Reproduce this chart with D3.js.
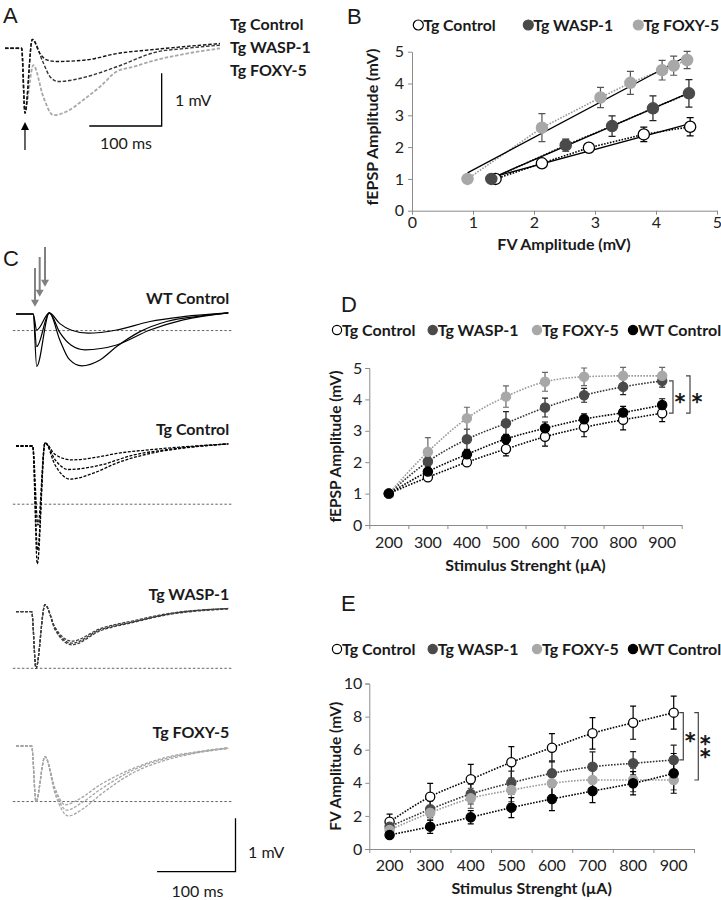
<!DOCTYPE html>
<html>
<head>
<meta charset="utf-8">
<script src="https://cdn.jsdelivr.net/npm/d3@7"></script>
<style>
  body { margin: 0; background: #fff; }
  text { font-family: Lato, "Open Sans", sans-serif; fill: #1a1a1a; }
  .letter { font-family: "Liberation Sans", Arial, sans-serif; font-size: 22px; }
  .axis path, .axis line { stroke: #8c8c8c; }
  .axis text { font-family: Lato, sans-serif; font-size: 16px; fill: #222; }
  .star { font-family: "DejaVu Sans", sans-serif; font-size: 21px; fill: #111; stroke: #111; stroke-width: 0.6px; text-rendering: geometricPrecision; }
</style>
</head>
<body>
<svg id="fig" width="721" height="900"></svg>
<script>
// ---------- data ----------
// panel A: averaged traces, [ms, mV]
const aTgControl = [[0,0],[23,0],[27.6,-1.23],[37.7,0.17],[48.3,-0.1],[57.6,-0.22],[71.4,-0.25],[112.8,-0.22],[154.3,-0.1],[200.3,-0.03],[246.3,0.03],[297,0.09]];
const aWasp = [[0,0],[23,0],[27.6,-1.23],[37.7,0.17],[53,-0.28],[62.2,-0.54],[73.6,-0.63],[112.8,-0.54],[154.3,-0.35],[209.5,-0.07],[251,0],[297,0.06]];
const aFoxy = [[0,0],[23,0],[27.6,-1.17],[39.1,-0.32],[52.9,-0.92],[66.7,-1.27],[85.2,-1.2],[108.1,-0.98],[131.2,-0.73],[154.3,-0.44],[177.2,-0.35],[209.5,-0.22],[251,-0.1],[297,0]];
const aLabels = ["Tg Control", "Tg WASP-1", "Tg FOXY-5"];

// panel B: fEPSP vs FV amplitude (mV)
const bTgControlFV = [1.37, 2.13, 2.90, 3.80, 4.56];
const bTgControlEPSP = [1.0, 1.49, 1.98, 2.40, 2.64];
const bTgControlErr = [0, 0.05, 0.08, 0.23, 0.29];
const bWaspFV = [1.30, 2.52, 3.28, 3.95, 4.54];
const bWaspEPSP = [1.0, 2.06, 2.66, 3.22, 3.69];
const bWaspErr = [0, 0.19, 0.32, 0.39, 0.43];
const bFoxyFV = [0.91, 2.13, 3.09, 3.58, 4.10, 4.29, 4.51];
const bFoxyEPSP = [1.0, 2.61, 3.56, 4.02, 4.42, 4.56, 4.74];
const bFoxyErr = [0, 0.44, 0.32, 0.36, 0.31, 0.30, 0.27];

// panel C: example traces per group, [ms, mV]
const cWT = [
  [[0,0],[22,0],[26.4,-0.30],[42.5,0.02],[56,-0.18],[70,-0.3],[92.2,-0.36],[128.4,-0.30],[170.9,-0.14],[213.4,-0.05],[270.8,0.02]],
  [[0,0],[22,0],[26.4,-0.61],[42.5,0.02],[56,-0.35],[70,-0.58],[88,-0.67],[128.4,-0.58],[170.9,-0.30],[213.4,-0.11],[270.8,0.02]],
  [[0,0],[22,0],[26.4,-0.98],[42.5,0.02],[56,-0.49],[68,-0.85],[83.8,-0.97],[107.1,-0.86],[128.4,-0.61],[158.2,-0.33],[192.2,-0.14],[234.7,-0.04],[270.8,0.02]]
];
const cTg = [
  [[0,0],[21.3,0],[27.2,-2.21],[37,0.06],[50,-0.16],[71,-0.26],[107,-0.20],[128.4,-0.14],[171,-0.07],[270.8,0.04]],
  [[0,0],[21.3,0],[27.5,-1.95],[37,0.06],[50,-0.26],[66.7,-0.44],[107,-0.36],[149.6,-0.17],[192.2,-0.07],[270.8,0.04]],
  [[0,0],[21.3,0],[28,-1.48],[37,0.06],[50,-0.36],[68.9,-0.62],[98.6,-0.51],[128.4,-0.32],[171,-0.14],[213.4,-0.04],[270.8,0.04]]
];
const cWasp = [
  [[0,0],[20,0],[25.5,-1.06],[37,0.13],[50,-0.3],[71.4,-0.55],[107,-0.32],[149.6,-0.17],[192.2,-0.04],[270.8,0.06]],
  [[0,0],[20,0],[25.5,-1.06],[37,0.13],[50,-0.32],[71.4,-0.59],[107,-0.34],[149.6,-0.19],[192.2,-0.05],[270.8,0.06]],
  [[0,0],[20,0],[25.5,-1.06],[37,0.13],[50,-0.34],[71.4,-0.62],[107,-0.36],[149.6,-0.2],[192.2,-0.06],[270.8,0.05]]
];
const cFoxy = [
  [[0,0],[20,0],[25.5,-1.04],[37,-0.20],[50,-0.8],[62.5,-1.10],[80,-1.0],[107,-0.73],[149.6,-0.42],[192.2,-0.21],[234.7,-0.10],[270.8,-0.03]],
  [[0,0],[20,0],[25.5,-1.04],[37,-0.20],[50,-0.85],[64.7,-1.20],[82,-1.08],[107,-0.82],[149.6,-0.45],[192.2,-0.23],[234.7,-0.11],[270.8,-0.04]],
  [[0,0],[20,0],[25.5,-1.04],[37,-0.20],[50,-0.9],[66.7,-1.31],[85,-1.18],[107,-0.92],[149.6,-0.50],[192.2,-0.26],[234.7,-0.12],[270.8,-0.05]]
];
const cLabels = ["WT Control", "Tg Control", "Tg WASP-1", "Tg FOXY-5"];
const cRefLevels = [-0.31, -1.09, -1.06, -1.04];
const cArrowTimes = [24.2, 30.2, 37];

// panels D, E: vs stimulus strength
const stimulus = ["200", "300", "400", "500", "600", "700", "800", "900"];
const dTgControl = [1.0, 1.52, 2.0, 2.42, 2.81, 3.11, 3.35, 3.56];
const dTgControlErr = [0, 0.08, 0.1, 0.22, 0.3, 0.3, 0.32, 0.27];
const dWasp = [1.0, 2.02, 2.73, 3.24, 3.74, 4.13, 4.40, 4.59];
const dWaspErr = [0, 0.15, 0.32, 0.37, 0.3, 0.22, 0.25, 0.2];
const dFoxy = [1.0, 2.33, 3.40, 4.09, 4.56, 4.72, 4.75, 4.75];
const dFoxyErr = [0, 0.45, 0.35, 0.34, 0.3, 0.28, 0.27, 0.27];
const dWT = [1.0, 1.70, 2.25, 2.74, 3.08, 3.37, 3.58, 3.82];
const dWTErr = [0, 0.1, 0.12, 0.15, 0.2, 0.17, 0.2, 0.2];

const eTgControl = [1.65, 3.16, 4.21, 5.24, 6.12, 6.99, 7.63, 8.24];
const eTgControlErr = [0.46, 0.8, 0.9, 0.95, 0.85, 0.95, 1.0, 1.0];
const eWasp = [1.35, 2.40, 3.32, 4.0, 4.57, 4.97, 5.18, 5.38];
const eWaspErr = [0.3, 0.5, 0.6, 0.7, 0.75, 0.9, 0.7, 0.9];
const eFoxy = [1.15, 2.19, 3.06, 3.56, 3.97, 4.17, 4.17, 4.17];
const eFoxyErr = [0.3, 0.45, 0.6, 0.7, 0.7, 0.7, 0.7, 0.6];
const eWT = [0.85, 1.35, 1.92, 2.50, 3.02, 3.50, 3.97, 4.57];
const eWTErr = [0.15, 0.4, 0.4, 0.6, 0.7, 0.7, 0.7, 1.2];

const groupNames = ["Tg Control", "Tg WASP-1", "Tg FOXY-5", "WT Control"];

// ---------- styles ----------
const colTg = "#000", colWasp = "#4a4a4a", colFoxy = "#a8a8a8", colWT = "#000";
const svg = d3.select("#fig");

function letter(t, x, y) {
  svg.append("text").attr("class", "letter").attr("x", x).attr("y", y).text(t);
}
function boldText(t, x, y, size, anchor) {
  return svg.append("text").attr("x", x).attr("y", y)
    .attr("font-size", size).attr("font-weight", "bold")
    .attr("text-anchor", anchor || "start").text(t);
}

// ========== Panel A ==========
letter("A", 3, 23);
{
  const x = d3.scaleLinear().domain([0, 300]).range([5, 222.2]);
  const y = d3.scaleLinear().domain([0, 1]).range([48.3, -4.4]);
  const line = d3.line().x(d => x(d[0])).y(d => y(d[1])).curve(d3.curveMonotoneX);
  const traces = [[aFoxy, colFoxy, 1.8], [aWasp, "#333", 1.4], [aTgControl, "#111", 1.4]];
  traces.forEach(([t, c, w]) => {
    svg.append("path").datum(t).attr("d", line)
      .attr("fill", "none").attr("stroke", c).attr("stroke-width", w)
      .attr("stroke-dasharray", "3.5,1.8");
  });
  // stimulus arrow
  const ax = x(27.6);
  svg.append("line").attr("x1", ax).attr("x2", ax).attr("y1", 150).attr("y2", 128)
    .attr("stroke", "#000").attr("stroke-width", 1.2);
  svg.append("path").attr("d", `M${ax - 4},${130} L${ax},${122} L${ax + 4},${130} Z`).attr("fill", "#000");
  // scale bar: 100 ms, 1 mV
  svg.append("path")
    .attr("d", `M${x(116.4)},${y(-1.474)} H${x(216.4)} V${y(-0.474)}`)
    .attr("fill", "none").attr("stroke", "#000").attr("stroke-width", 1.3);
  svg.append("text").attr("x", 175).attr("y", 106).attr("font-size", 16).text("1 mV");
  svg.append("text").attr("x", 126).attr("y", 149).attr("font-size", 16)
    .attr("text-anchor", "middle").text("100 ms");
  aLabels.forEach((l, i) => boldText(l, 230, 30 + i * 23, 16));
}

// ========== Panel B ==========
letter("B", 347, 24);
{
  const x = d3.scaleLinear().domain([0, 5]).range([412, 717]);
  const y = d3.scaleLinear().domain([0, 5]).range([210.7, 51.7]);
  svg.append("g").attr("class", "axis").attr("transform", "translate(0,210.7)")
    .call(d3.axisBottom(x).ticks(5).tickSize(4).tickPadding(2).tickSizeOuter(0));
  svg.append("g").attr("class", "axis").attr("transform", "translate(412,0)")
    .call(d3.axisLeft(y).ticks(5).tickSize(4).tickPadding(4).tickSizeOuter(0));

  const series = [
    { fv: bTgControlFV, v: bTgControlEPSP, e: bTgControlErr, fill: "#fff", stroke: "#000", line: "#000", err: "#000" },
    { fv: bWaspFV, v: bWaspEPSP, e: bWaspErr, fill: colWasp, stroke: colWasp, line: "#222", err: "#222" },
    { fv: bFoxyFV, v: bFoxyEPSP, e: bFoxyErr, fill: colFoxy, stroke: colFoxy, line: "#999", err: "#555" }
  ];
  series.forEach(s => {
    const pts = s.fv.map((f, i) => [f, s.v[i], s.e[i]]);
    // dotted connection
    svg.append("path").datum(pts)
      .attr("d", d3.line().x(d => x(d[0])).y(d => y(d[1])))
      .attr("fill", "none").attr("stroke", s.line).attr("stroke-width", 1.6)
      .attr("stroke-dasharray", "1.6,1.4");
    // linear fit (least squares)
    const mx = d3.mean(s.fv), my = d3.mean(s.v);
    const slope = d3.sum(s.fv, (f, i) => (f - mx) * (s.v[i] - my)) / d3.sum(s.fv, f => (f - mx) * (f - mx));
    const x0 = d3.min(s.fv), x1 = d3.max(s.fv);
    svg.append("line")
      .attr("x1", x(x0)).attr("y1", y(my + slope * (x0 - mx)))
      .attr("x2", x(x1)).attr("y2", y(my + slope * (x1 - mx)))
      .attr("stroke", "#000").attr("stroke-width", 1.3);
    s.pts = pts;
  });
  series.forEach(s => {
    s.pts.filter(d => d[2] > 0).forEach(d => {
      const cx = x(d[0]), y1 = y(d[1] + d[2]), y2 = y(d[1] - d[2]);
      svg.append("path").attr("d", `M${cx},${y1} V${y2} M${cx - 3.5},${y1} H${cx + 3.5} M${cx - 3.5},${y2} H${cx + 3.5}`)
        .attr("stroke", s.err).attr("stroke-width", 1.2).attr("fill", "none");
    });
    svg.append("g").selectAll("circle").data(s.pts).join("circle")
      .attr("cx", d => x(d[0])).attr("cy", d => y(d[1])).attr("r", 5.6)
      .attr("fill", s.fill).attr("stroke", s.stroke).attr("stroke-width", 1.3);
  });

  // legend
  const leg = [[418.3, "#fff", "#000"], [528.3, colWasp, colWasp], [638.3, colFoxy, colFoxy]];
  leg.forEach(([lx, f, st], i) => {
    svg.append("circle").attr("cx", lx).attr("cy", 25).attr("r", 5).attr("fill", f).attr("stroke", st).attr("stroke-width", 1.2);
    boldText(groupNames[i], lx + 5, 31, 15.8);
  });
  svg.append("text").attr("transform", "translate(372.5,127) rotate(-90)").attr("dy", "0.35em")
    .attr("text-anchor", "middle").attr("font-size", 16).attr("font-weight", "bold").text("fEPSP Amplitude (mV)");
  boldText("FV Amplitude (mV)", 564, 250, 16, "middle");
}

// ========== Panel C ==========
letter("C", 3, 266);
{
  const x = d3.scaleLinear().domain([0, 280]).range([16, 235.5]);
  const mvPx = 53.4;
  const rows = [
    { traces: cWT, base: 314, color: "#000", dash: null, w: 1.2, labelY: 304 },
    { traces: cTg, base: 446, color: "#000", dash: "3,1.5", w: 1.3, labelY: 435 },
    { traces: cWasp, base: 611.7, color: "#3c3c3c", dash: "3,1.5", w: 1.3, labelY: 600 },
    { traces: cFoxy, base: 746, color: "#a5a5a5", dash: "3,1.5", w: 1.3, labelY: 738 }
  ];
  rows.forEach((r, i) => {
    const y = d3.scaleLinear().domain([0, 1]).range([r.base, r.base - mvPx]);
    // reference line
    svg.append("line").attr("x1", x(-4)).attr("x2", x(277))
      .attr("y1", y(cRefLevels[i])).attr("y2", y(cRefLevels[i]))
      .attr("stroke", "#555").attr("stroke-width", 0.9).attr("stroke-dasharray", "2.5,2");
    const line = d3.line().x(d => x(d[0])).y(d => y(d[1])).curve(d3.curveMonotoneX);
    r.traces.forEach(t => {
      const p = svg.append("path").datum(t).attr("d", line)
        .attr("fill", "none").attr("stroke", r.color).attr("stroke-width", r.w);
      if (r.dash) p.attr("stroke-dasharray", r.dash);
    });
    boldText(cLabels[i], 229.3, r.labelY, 16, "end");
  });
  // stimulus arrows (WT row)
  const arrowTops = [268, 257, 247];
  cArrowTimes.forEach((t, i) => {
    const ax = x(t), tip = 306.7 - i * 10;
    svg.append("line").attr("x1", ax).attr("x2", ax).attr("y1", arrowTops[i]).attr("y2", tip - 6)
      .attr("stroke", "#808080").attr("stroke-width", 2);
    svg.append("path").attr("d", `M${ax - 4},${tip - 7} L${ax},${tip} L${ax + 4},${tip - 7} Z`).attr("fill", "#808080");
  });
  // scale bar
  const yb = d3.scaleLinear().domain([0, 1]).range([746, 746 - mvPx]);
  svg.append("path").attr("d", `M${x(180)},${yb(-2.354)} H${x(280)} V${yb(-1.354)}`)
    .attr("fill", "none").attr("stroke", "#000").attr("stroke-width", 1.3);
  svg.append("text").attr("x", 248).attr("y", 858).attr("font-size", 16).text("1 mV");
  svg.append("text").attr("x", 197.5).attr("y", 897).attr("font-size", 16).attr("text-anchor", "middle").text("100 ms");
}

// ========== Panels D and E ==========
function stimPanel(opt) {
  const xb = d3.scaleBand().domain(stimulus).range([opt.x0, opt.x1]);
  const xe = d3.scaleLinear().domain([0, stimulus.length]).range([opt.x0, opt.x1]);
  const y = d3.scaleLinear().domain([0, opt.ymax]).range([opt.y0, opt.ytop]);
  svg.append("g").attr("class", "axis").attr("transform", `translate(0,${opt.y0})`)
    .call(d3.axisBottom(xe).tickValues(d3.range(stimulus.length + 1)).tickFormat("").tickSize(4).tickSizeOuter(0));
  const lab = svg.append("g").attr("class", "axis").attr("transform", `translate(0,${opt.y0})`)
    .call(d3.axisBottom(xb).tickSize(0).tickPadding(opt.xpad));
  lab.select(".domain").remove();
  svg.append("g").attr("class", "axis").attr("transform", `translate(${opt.x0},0)`)
    .call(d3.axisLeft(y).tickValues(opt.yticks).tickFormat(d3.format("d")).tickSize(4).tickPadding(3).tickSizeOuter(4));

  const cx = s => xb(s) + xb.bandwidth() / 2;
  const series = [
    { v: opt.tg, e: opt.tgErr, fill: "#fff", stroke: "#000", line: "#000", err: "#000" },
    { v: opt.wasp, e: opt.waspErr, fill: colWasp, stroke: colWasp, line: "#333", err: "#222" },
    { v: opt.foxy, e: opt.foxyErr, fill: colFoxy, stroke: colFoxy, line: "#9a9a9a", err: "#666" },
    { v: opt.wt, e: opt.wtErr, fill: colWT, stroke: colWT, line: "#000", err: "#000" }
  ];
  series.forEach(s => {
    svg.append("path").datum(s.v)
      .attr("d", d3.line().x((d, i) => cx(stimulus[i])).y(d => y(d)).curve(d3.curveMonotoneX))
      .attr("fill", "none").attr("stroke", s.line).attr("stroke-width", 1.6).attr("stroke-dasharray", "1.6,1.4");
  });
  series.forEach(s => {
    s.v.forEach((d, i) => {
      if (s.e[i] <= 0) return;
      const px = cx(stimulus[i]), y1 = y(d + s.e[i]), y2 = y(d - s.e[i]);
      svg.append("path").attr("d", `M${px},${y1} V${y2} M${px - 3},${y1} H${px + 3} M${px - 3},${y2} H${px + 3}`)
        .attr("stroke", s.err).attr("stroke-width", 1.2).attr("fill", "none");
    });
  });
  series.forEach(s => {
    svg.append("g").selectAll("circle").data(s.v).join("circle")
      .attr("cx", (d, i) => cx(stimulus[i])).attr("cy", d => y(d)).attr("r", 4.6)
      .attr("fill", s.fill).attr("stroke", s.stroke).attr("stroke-width", 1.3);
  });

  // significance brackets at last stimulus
  const last = stimulus.length - 1;
  opt.brackets.forEach(b => {
    const yA = y(b.top[last]), yB = y(b.bottom[last]);
    svg.append("path").attr("d", `M${b.x - 4},${yA} H${b.x} V${yB} H${b.x - 4}`)
      .attr("fill", "none").attr("stroke", "#444").attr("stroke-width", 1.2);
    // stacked stars live in one text element
    const t = svg.append("text").attr("class", "star").attr("text-anchor", "middle");
    b.stars.forEach((st, k) => {
      t.append("tspan").attr("x", b.x + 7)
        .attr(k === 0 ? "y" : "dy", k === 0 ? (yA + yB) / 2 + st : st - b.stars[k - 1])
        .text("*");
    });
  });

  // legend
  const legX = [337, 432.7, 537, 633];
  const legFill = [["#fff", "#000"], [colWasp, colWasp], [colFoxy, colFoxy], [colWT, colWT]];
  legX.forEach((lx, i) => {
    svg.append("circle").attr("cx", lx).attr("cy", opt.legY - 6).attr("r", 4.6)
      .attr("fill", legFill[i][0]).attr("stroke", legFill[i][1]).attr("stroke-width", 1.2);
    boldText(groupNames[i], lx + 5, opt.legY, 16);
  });
  svg.append("text").attr("transform", `translate(336,${(opt.y0 + opt.ytop) / 2}) rotate(-90)`).attr("dy", "0.35em")
    .attr("text-anchor", "middle").attr("font-size", 15.5).attr("font-weight", "bold").text(opt.ylabel);
  boldText("Stimulus Strenght (µA)", (opt.x0 + opt.x1) / 2, opt.xlabY, 16, "middle");
}

letter("D", 341, 312);
stimPanel({
  x0: 369.3, x1: 681.7, y0: 525, ytop: 368, ymax: 5, yticks: [0, 1, 2, 3, 4, 5], xpad: 12,
  tg: dTgControl, tgErr: dTgControlErr, wasp: dWasp, waspErr: dWaspErr,
  foxy: dFoxy, foxyErr: dFoxyErr, wt: dWT, wtErr: dWTErr,
  brackets: [
    { top: dWasp, bottom: dTgControl, x: 673, stars: [12] },
    { top: dFoxy, bottom: dTgControl, x: 690, stars: [14] }
  ],
  legY: 336, ylabel: "fEPSP Amplitude (mV)", xlabY: 571
});

letter("E", 341, 611);
stimPanel({
  x0: 369.3, x1: 694, y0: 849, ytop: 683.5, ymax: 10, yticks: [0, 2, 4, 6, 8, 10], xpad: 11,
  tg: eTgControl, tgErr: eTgControlErr, wasp: eWasp, waspErr: eWaspErr,
  foxy: eFoxy, foxyErr: eFoxyErr, wt: eWT, wtErr: eWTErr,
  brackets: [
    { top: eTgControl, bottom: eWasp, x: 683.3, stars: [12] },
    { top: eTgControl, bottom: eFoxy, x: 698.3, stars: [5, 18] }
  ],
  legY: 655, ylabel: "FV Amplitude (mV)", xlabY: 894
});
</script>
</body>
</html>
